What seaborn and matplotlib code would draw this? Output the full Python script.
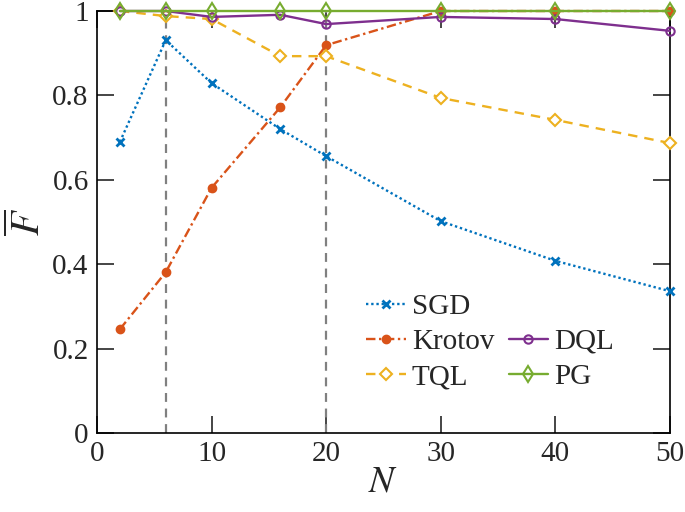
import matplotlib
matplotlib.use("Agg")
import matplotlib.pyplot as plt
import seaborn as sns
from matplotlib.lines import Line2D

N = [2, 6, 10, 16, 20, 30, 40, 50]
sgd = [0.690, 0.931, 0.829, 0.720, 0.656, 0.502, 0.408, 0.336]
krotov = [0.246, 0.381, 0.581, 0.772, 0.919, 1.0, 1.0, 1.0]
tql = [1.0, 0.988, 0.981, 0.893, 0.893, 0.794, 0.742, 0.687]
dql = [1.0, 1.0, 0.986, 0.991, 0.969, 0.986, 0.981, 0.953]
pg = [1.0, 1.0, 1.0, 1.0, 1.0, 1.0, 1.0, 1.0]
vlines_x = [6, 20]
xticks = [0, 10, 20, 30, 40, 50]
yticks = [0, 0.2, 0.4, 0.6, 0.8, 1]
ytick_labels = ["0", "0.2", "0.4", "0.6", "0.8", "1"]

sns.set_theme(style="ticks")
plt.rcParams["font.family"] = ["Liberation Serif", "DejaVu Serif"]
plt.rcParams["mathtext.fontset"] = "stix"

fig = plt.figure(figsize=(6.85, 5.12), dpi=100)
ax = fig.add_axes([0.1416, 0.1543, 0.8364, 0.8242])

for xv in vlines_x:
    ax.plot([xv, xv], [0, 1], color="#808080", linestyle=(0, (4, 3)), linewidth=1.6, zorder=1)

lw = 1.7
common = dict(ax=ax, linewidth=lw, clip_on=False)
sns.lineplot(x=N, y=sgd, color="#0072BD", linestyle=(0, (1, 1.2)),
             marker="x", markersize=6, markeredgewidth=2, markeredgecolor="#0072BD",
             label="SGD", zorder=3, **common)
sns.lineplot(x=N, y=krotov, color="#D95319", linestyle=(0, (4, 1.5, 1, 1.5)),
             marker="o", markersize=6, markeredgewidth=1, markeredgecolor="#D95319",
             markerfacecolor="#D95319", label="Krotov", zorder=3, **common)
sns.lineplot(x=N, y=tql, color="#EDB120", linestyle=(0, (4, 3)),
             marker="D", markersize=6, markerfacecolor="white", markeredgewidth=1.5,
             markeredgecolor="#EDB120", label="TQL", zorder=3, **common)
sns.lineplot(x=N, y=dql, color="#7E2F8E", linestyle="-",
             marker="o", markersize=6, markerfacecolor="none", markeredgewidth=1.5,
             markeredgecolor="#7E2F8E", label="DQL", zorder=3, **common)
sns.lineplot(x=N, y=pg, color="#77AC30", linestyle="-",
             marker="d", markersize=8, markerfacecolor="none", markeredgewidth=1.5,
             markeredgecolor="#77AC30", label="PG", zorder=4, **common)

ax.set_xlim(0, 50)
ax.set_ylim(0, 1)
ax.set_xticks(xticks)
ax.set_yticks(yticks)
ax.set_yticklabels(ytick_labels)
ax.tick_params(direction="in", length=12, width=1.2, labelsize=21, top=True, right=True, pad=6)
for s in ax.spines.values():
    s.set_linewidth(1.2)
    s.set_color("black")
    s.set_visible(True)

ax.set_xlabel(r"$N$", fontsize=27, labelpad=-2)
ax.set_ylabel(r"$\overline{F}$", fontsize=29, labelpad=2)

handles, labels = ax.get_legend_handles_labels()
hmap = dict(zip(labels, handles))
blank = Line2D([], [], linestyle="none", marker=None)
order_h = [hmap["SGD"], hmap["Krotov"], hmap["TQL"], blank, hmap["DQL"], hmap["PG"]]
order_l = ["SGD", "Krotov", "TQL", "", "DQL", "PG"]
ax.legend(order_h, order_l, ncol=2, loc="lower left", bbox_to_anchor=(0.45, 0.074),
          frameon=False, fontsize=21, handlelength=1.35, handletextpad=0.2,
          columnspacing=0.5, labelspacing=0.3, borderaxespad=0)

fig.savefig("out.png", dpi=100)
